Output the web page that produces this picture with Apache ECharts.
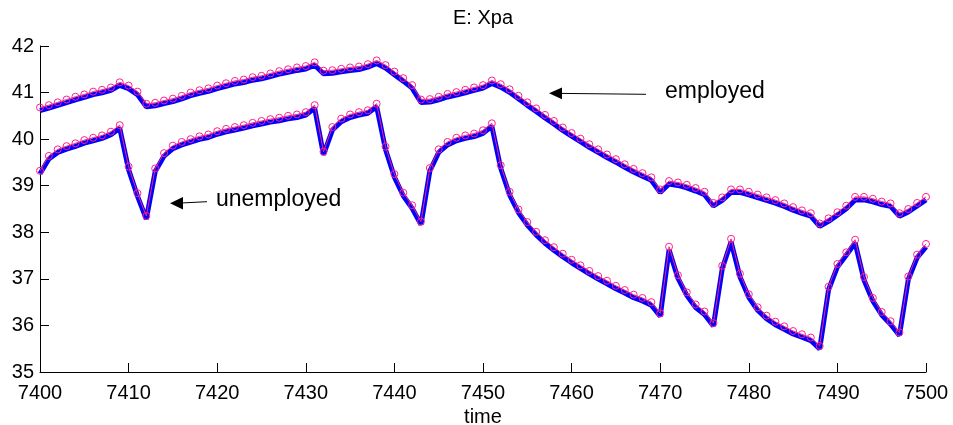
<!DOCTYPE html>
<html>
<head>
<meta charset="utf-8">
<script src="https://cdn.jsdelivr.net/npm/echarts@6/dist/echarts.min.js"></script>
<style>
html,body{margin:0;padding:0;background:#fff;}
#c{width:953px;height:425px;}
</style>
</head>
<body>
<div id="c"></div>
<script>
const times = [7400,7401,7402,7403,7404,7405,7406,7407,7408,7409,
7410,7411,7412,7413,7414,7415,7416,7417,7418,7419,
7420,7421,7422,7423,7424,7425,7426,7427,7428,7429,
7430,7431,7432,7433,7434,7435,7436,7437,7438,7439,
7440,7441,7442,7443,7444,7445,7446,7447,7448,7449,
7450,7451,7452,7453,7454,7455,7456,7457,7458,7459,
7460,7461,7462,7463,7464,7465,7466,7467,7468,7469,
7470,7471,7472,7473,7474,7475,7476,7477,7478,7479,
7480,7481,7482,7483,7484,7485,7486,7487,7488,7489,
7490,7491,7492,7493,7494,7495,7496,7497,7498,7499,
7500];

const employed = [40.68,40.73,40.79,40.85,40.91,40.96,41.02,41.06,41.11,41.22,
41.15,41.02,40.76,40.78,40.83,40.87,40.93,41.00,41.05,41.09,
41.15,41.20,41.25,41.28,41.33,41.36,41.41,41.46,41.50,41.54,
41.57,41.65,41.47,41.48,41.51,41.54,41.56,41.61,41.69,41.59,
41.45,41.31,41.16,40.85,40.86,40.91,40.97,41.01,41.06,41.11,
41.16,41.26,41.18,41.07,40.93,40.79,40.66,40.52,40.39,40.25,
40.13,40.01,39.89,39.78,39.67,39.57,39.46,39.36,39.27,39.18,
38.92,39.10,39.07,39.02,38.95,38.87,38.63,38.75,38.92,38.92,
38.87,38.81,38.75,38.69,38.62,38.54,38.47,38.41,38.19,38.30,
38.43,38.57,38.76,38.76,38.72,38.66,38.62,38.41,38.50,38.63,
38.76];

const unemployed = [39.32,39.64,39.78,39.85,39.91,39.98,40.03,40.08,40.16,40.30,
39.41,38.84,38.35,39.37,39.70,39.86,39.94,40.00,40.06,40.10,
40.17,40.22,40.26,40.30,40.35,40.39,40.43,40.46,40.50,40.53,
40.58,40.73,39.73,40.26,40.44,40.53,40.58,40.62,40.76,39.84,
39.25,38.85,38.58,38.23,39.38,39.78,39.94,40.03,40.08,40.12,
40.19,40.34,39.44,38.87,38.49,38.22,38.01,37.83,37.68,37.54,
37.41,37.29,37.17,37.06,36.96,36.85,36.76,36.66,36.59,36.50,
36.26,37.69,37.08,36.71,36.45,36.30,36.05,37.28,37.86,37.11,
36.67,36.39,36.21,36.08,35.98,35.88,35.81,35.74,35.56,36.83,
37.32,37.57,37.84,37.04,36.59,36.29,36.09,35.85,37.05,37.52,
37.75];

const xTicks = {min: 7400, max: 7500, interval: 10};
const yTicks = {min: 35, max: 42, interval: 1};

const titleText = 'E: Xpa';
const xName = 'time';
const labelEmployed = 'employed';
const labelUnemployed = 'unemployed';

function pairs(vals){ return times.map((t,i)=>[t, vals[i]]); }

const FONT = '"Liberation Sans", Arial, Helvetica, sans-serif';
const chart = echarts.init(document.getElementById('c'), null, {renderer:'canvas'});

const visibleX = {
  type:'value', gridIndex:0, min:xTicks.min, max:xTicks.max, interval:xTicks.interval,
  name:xName, nameLocation:'middle', nameGap:33,
  nameTextStyle:{color:'#000', fontSize:20, fontFamily:FONT},
  axisLine:{show:true, lineStyle:{color:'#000', width:1}},
  axisTick:{show:true, inside:true, length:9, lineStyle:{color:'#000'}},
  axisLabel:{color:'#000', fontSize:20, fontFamily:FONT, margin:11, formatter:(v)=>String(v)},
  splitLine:{show:false}
};
const visibleY = {
  type:'value', gridIndex:0, min:yTicks.min, max:yTicks.max, interval:yTicks.interval,
  axisLine:{show:true, lineStyle:{color:'#000', width:1}},
  axisTick:{show:true, inside:true, length:9, lineStyle:{color:'#000'}},
  axisLabel:{color:'#000', fontSize:20, fontFamily:FONT, margin:6, formatter:(v)=>String(v)},
  splitLine:{show:false}
};
const hiddenX = {type:'value', gridIndex:1, min:xTicks.min, max:xTicks.max, show:false};
const hiddenY = {type:'value', gridIndex:1, min:yTicks.min, max:yTicks.max, show:false};

function blueSeries(vals){
  return {type:'line', xAxisIndex:1, yAxisIndex:1, data:pairs(vals), showSymbol:false,
    lineStyle:{color:'#0000ff', width:5}, silent:true, z:1, animation:false};
}
function markerSeries(vals){
  return {type:'line', xAxisIndex:0, yAxisIndex:0, data:pairs(vals), showSymbol:true, showAllSymbol:true,
    symbol:'circle', symbolSize:7,
    itemStyle:{color:'rgba(0,0,0,0)', borderColor:'#ff1f8f', borderWidth:1},
    lineStyle:{color:'#ff2070', width:1}, z:3, animation:false};
}

chart.setOption({
  animation:false,
  backgroundColor:'#fff',
  grid:[
    {left:40, right:27, top:46, bottom:53, containLabel:false, outerBoundsMode:'none'},
    {left:40, right:27, top:49, bottom:50, containLabel:false, outerBoundsMode:'none'}
  ],
  xAxis:[visibleX, hiddenX],
  yAxis:[visibleY, hiddenY],
  series:[
    blueSeries(employed), blueSeries(unemployed),
    markerSeries(employed), markerSeries(unemployed)
  ],
  graphic:[
    {type:'text', x:483, y:18, style:{text:titleText, font:'20px '+FONT, fill:'#000', textAlign:'center', textVerticalAlign:'middle'}},
    {type:'text', x:665, y:92, style:{text:labelEmployed, font:'23px '+FONT, fill:'#000', textAlign:'left', textVerticalAlign:'middle'}},
    {type:'text', x:216, y:200, style:{text:labelUnemployed, font:'23px '+FONT, fill:'#000', textAlign:'left', textVerticalAlign:'middle'}},
    {type:'line', shape:{x1:560, y1:93.4, x2:646, y2:94.3}, style:{stroke:'#000', lineWidth:1}},
    {type:'polygon', shape:{points:[[549,93.3],[562,87.5],[562,99.3]]}, style:{fill:'#000'}},
    {type:'line', shape:{x1:181, y1:203, x2:207, y2:201.7}, style:{stroke:'#000', lineWidth:1}},
    {type:'polygon', shape:{points:[[170,203.3],[183,197],[183,209.5]]}, style:{fill:'#000'}}
  ]
});
</script>
</body>
</html>
